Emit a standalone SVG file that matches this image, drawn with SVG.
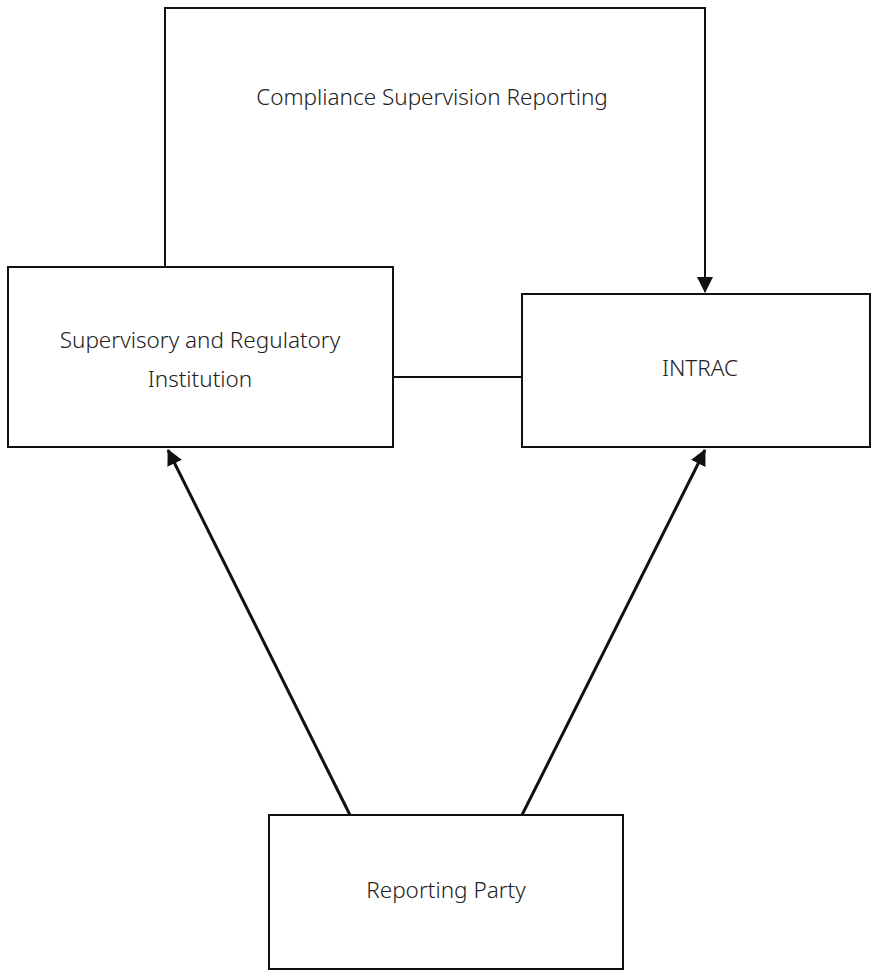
<svg xmlns="http://www.w3.org/2000/svg" width="873" height="978" viewBox="0 0 873 978">
<style>
.box{fill:#fff;stroke:#111;stroke-width:2}
.t{font-family:"Noto Sans","Open Sans",sans-serif;font-size:22.5px;fill:#222;text-anchor:middle;font-weight:300}
.c{fill:none;stroke:#111;stroke-width:2}
.d{fill:none;stroke:#111;stroke-width:3}
</style>
<defs>
<marker id="ah2" markerWidth="16" markerHeight="16" refX="15" refY="8" orient="auto" markerUnits="userSpaceOnUse" viewBox="0 0 16 16">
<path d="M0,0 L16,8 L0,16 z" fill="#111"/>
</marker>
</defs>
<rect width="873" height="978" fill="#fff"/>
<g id="connectors">
<path class="c" d="M165,267 V8 H705 V292" marker-end="url(#ah2)"/>
<text class="t" x="432" y="105">Compliance Supervision Reporting</text>
<line class="c" x1="393" y1="377" x2="522" y2="377"/>
<line class="d" x1="350" y1="815" x2="168" y2="450" marker-end="url(#ah2)"/>
<line class="d" x1="522" y1="815" x2="705" y2="450" marker-end="url(#ah2)"/>
</g>
<g id="supervisory">
<rect class="box" x="8" y="267" width="385" height="180"/>
<text class="t" x="200" y="348">Supervisory and Regulatory</text>
<text class="t" x="200" y="387">Institution</text>
</g>
<g id="intrac">
<rect class="box" x="522" y="294" width="348" height="153"/>
<text class="t" x="700" y="376">INTRAC</text>
</g>
<g id="reporting">
<rect class="box" x="269" y="815" width="354" height="154"/>
<text class="t" x="446" y="898">Reporting Party</text>
</g>
</svg>
